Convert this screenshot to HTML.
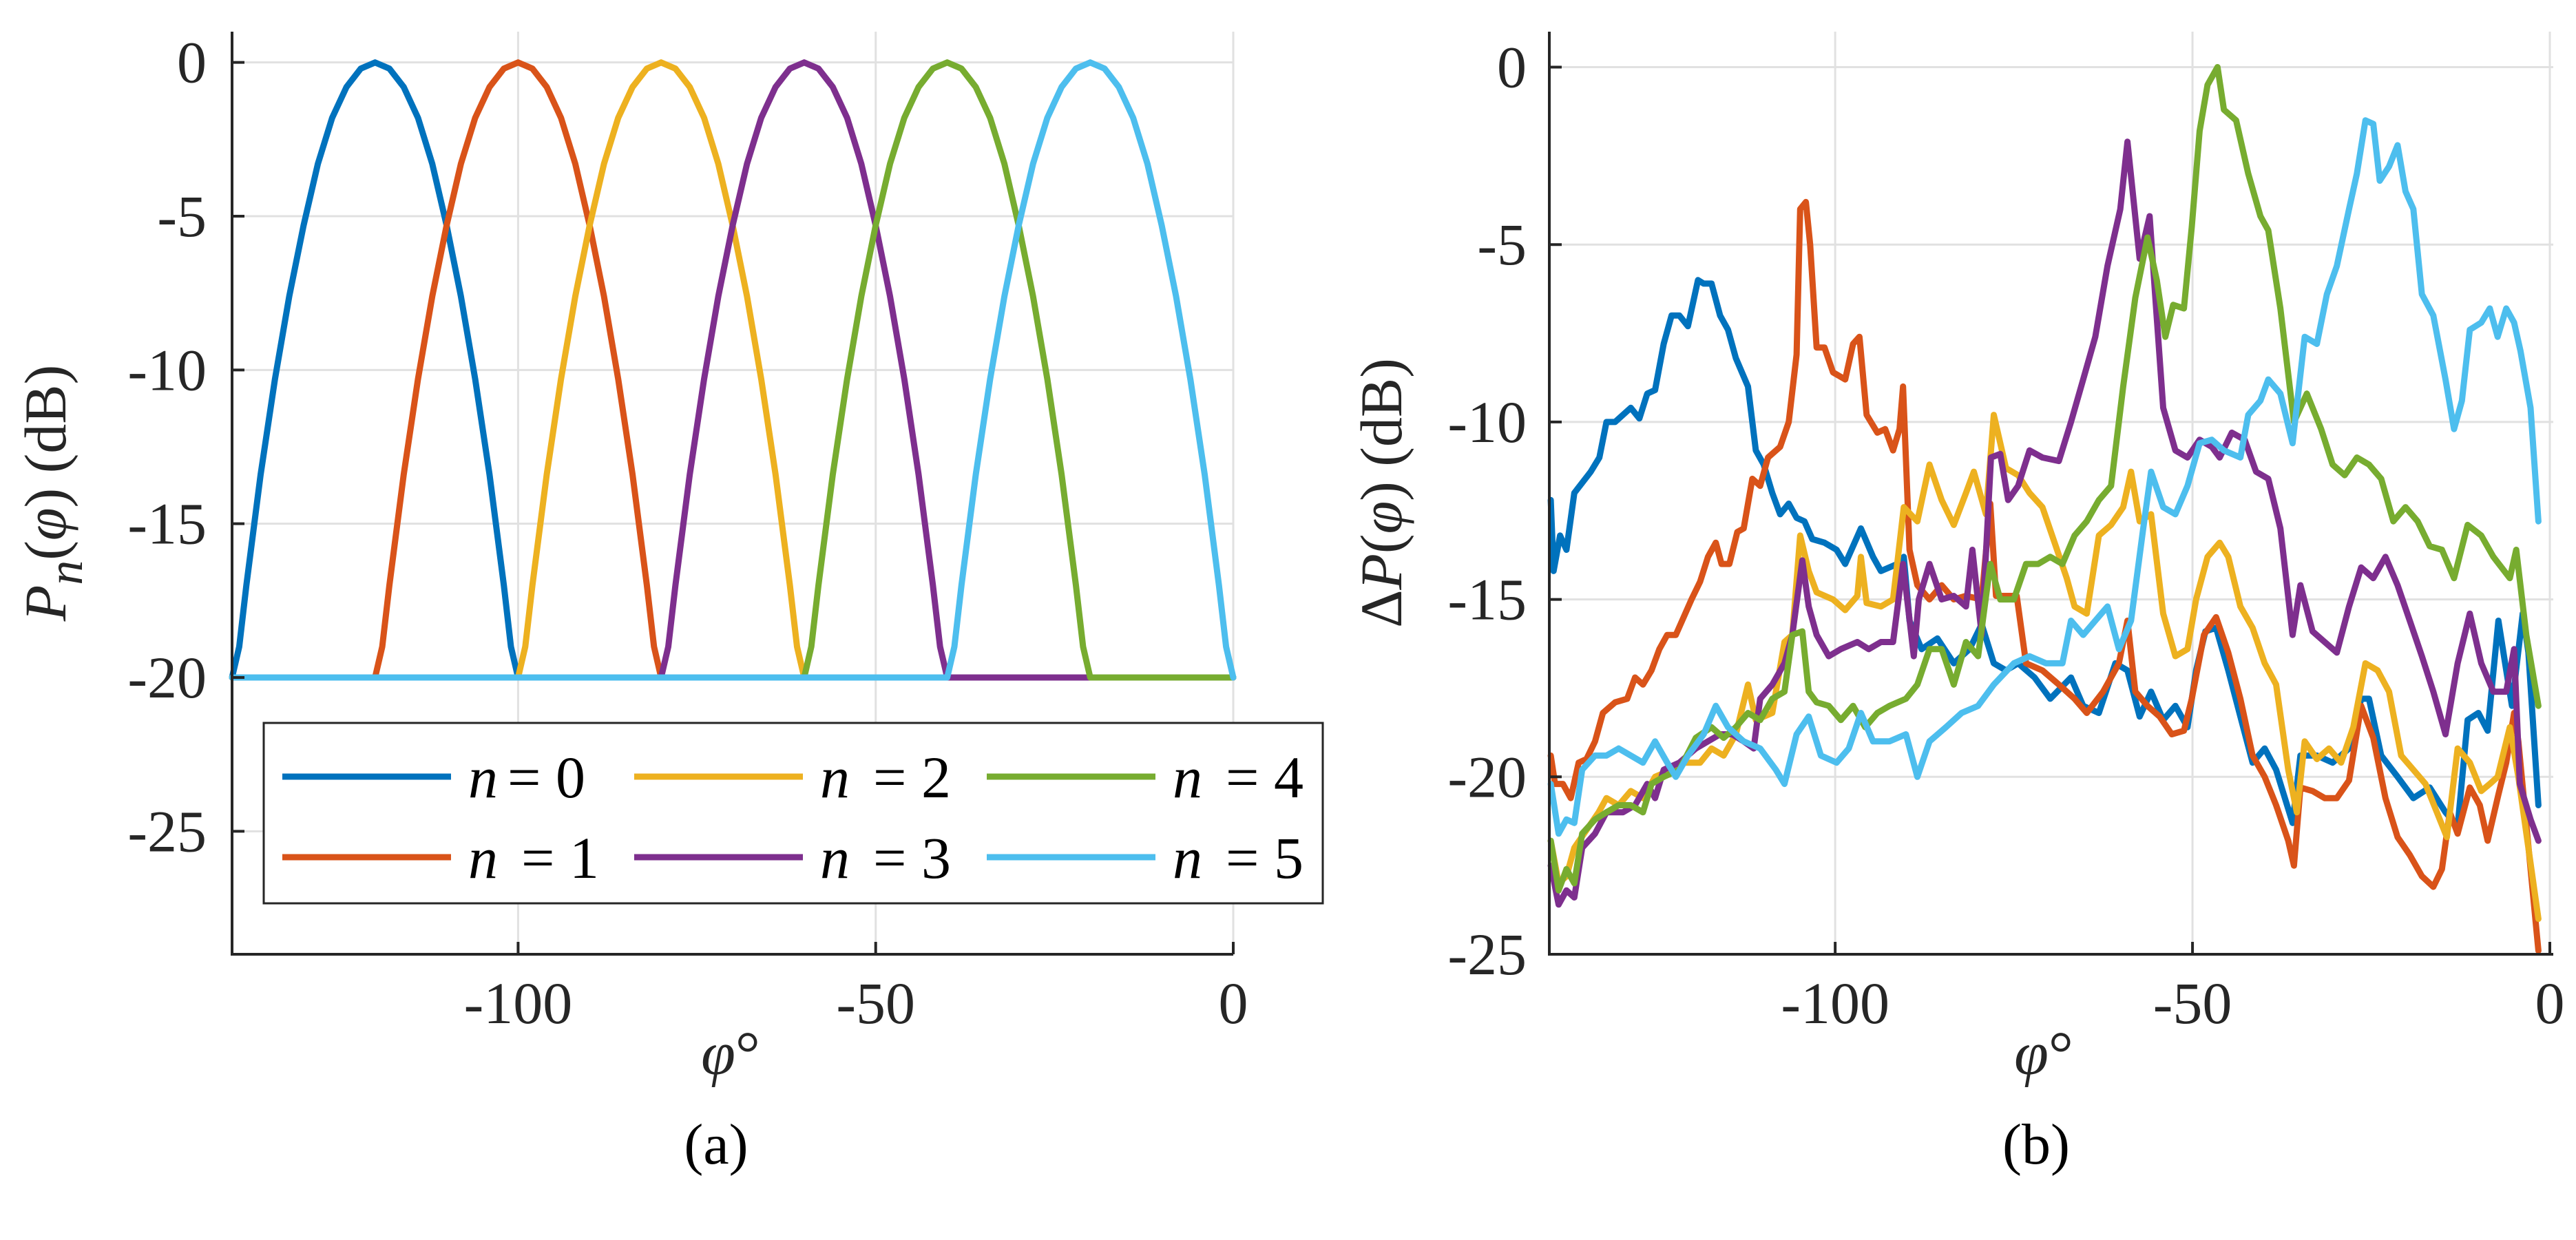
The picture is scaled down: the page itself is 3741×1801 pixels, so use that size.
<!DOCTYPE html>
<html><head><meta charset="utf-8">
<style>
html,body{margin:0;padding:0;background:#fff;}
svg{display:block;font-family:"Liberation Serif",serif;}
</style></head>
<body>
<svg id="fig" width="3741" height="1801" viewBox="0 0 3741 1801" xmlns="http://www.w3.org/2000/svg">
<rect x="0" y="0" width="3741" height="1801" fill="#fff"/>
<g id="pa"></g>
<g id="pb"></g>
</svg>
<script>
// ---------- data: panel (a) ----------
const aCenters = [-120, -100, -80, -60, -40, -20];
const aOffsets = [-20, -19, -18, -16, -14, -12, -10, -8, -6, -4, -2, 0, 2, 4, 6, 8, 10, 12, 14, 16, 18, 19, 20];
const aProfile = [-20, -19, -17, -13.4, -10.3, -7.6, -5.3, -3.3, -1.8, -0.8, -0.2, 0, -0.2, -0.8, -1.8, -3.3, -5.3, -7.6, -10.3, -13.4, -17, -19, -20];
const aFloor = -20;
const aYTicks = [0, -5, -10, -15, -20, -25];
const aXTicks = [-100, -50, 0];
const seriesColors = ['#0072BD', '#D95319', '#EDB120', '#7E2F8E', '#77AC30', '#4DBEEE'];
const legendLabels = ['0', '1', '2', '3', '4', '5'];

// ---------- data: panel (b) ----------
const bX0 = [-139.8,-139.4,-138.5,-137.6,-136.5,-134.2,-133,-132,-130.8,-128.6,-127.4,-126.3,-125.2,-124,-122.9,-121.8,-120.6,-119.2,-118.4,-117.3,-116.1,-115,-113.9,-112.2,-111.1,-110,-108.8,-107.7,-106.5,-105.4,-104.3,-103.2,-101.5,-99.8,-98.6,-96.4,-94.7,-93.6,-91.3,-90.4,-89.6,-87.9,-85.7,-83.4,-81.2,-79.5,-77.8,-76.1,-74.4,-72.1,-69.9,-67,-65.3,-63.1,-60.8,-59.1,-57.4,-55.8,-54.1,-52.4,-50.7,-49.5,-48.2,-46.7,-45,-43.3,-41.6,-39.9,-38.3,-36,-34.9,-32.6,-30.4,-28.1,-26.4,-25.3,-23.6,-21.3,-19.1,-16.8,-14.6,-12.9,-11.5,-10,-8.7,-7.2,-6.1,-5.3,-3.8,-3,-1.6];
const bY0 = [-12.2,-14.2,-13.2,-13.6,-12,-11.4,-11,-10,-10,-9.6,-9.9,-9.2,-9.1,-7.8,-7,-7,-7.3,-6,-6.1,-6.1,-7,-7.4,-8.2,-9,-10.8,-11.2,-12,-12.6,-12.3,-12.7,-12.8,-13.3,-13.4,-13.6,-14,-13,-13.8,-14.2,-14,-13.8,-15.6,-16.4,-16.1,-16.8,-16.4,-15.7,-16.8,-17,-16.8,-17.2,-17.8,-17.2,-18,-18.2,-16.8,-17,-18.3,-17.6,-18.4,-18,-18.6,-17,-15.9,-15.8,-17,-18.3,-19.6,-19.2,-19.8,-21.3,-19.4,-19.4,-19.6,-19.2,-17.8,-17.8,-19.4,-20,-20.6,-20.3,-21,-21.4,-18.4,-18.2,-18.7,-15.6,-17,-18,-15.4,-16.5,-20.8];
const bX1 = [-139.8,-139.2,-138.1,-137,-135.9,-134.8,-133.6,-132.5,-130.8,-129.1,-128,-126.9,-125.7,-124.6,-123.5,-122.3,-121.2,-120.1,-118.9,-117.8,-116.7,-115.9,-114.8,-113.7,-112.8,-111.6,-110.5,-109.4,-107.7,-106.5,-105.4,-104.9,-104.1,-103.5,-102.6,-101.5,-100.3,-98.6,-97.5,-96.6,-95.6,-94.1,-93,-91.9,-91,-90.5,-89.6,-88.5,-86.8,-85.1,-83.4,-81.7,-79.5,-78.3,-77.5,-75.5,-74.6,-73.3,-71,-68.7,-66.5,-64.8,-62.5,-60.3,-59.1,-58,-56.3,-54.6,-52.9,-51.2,-50.1,-48.4,-46.7,-45,-43.3,-41.6,-39.9,-38.3,-36.6,-35.8,-34.9,-33.2,-31.5,-29.8,-28.1,-26.4,-24.7,-23,-21.3,-19.6,-17.9,-16.3,-15.1,-14,-12.9,-11.2,-9.8,-8.7,-7.2,-6.1,-5,-4.4,-1.6];
const bY1 = [-19.4,-20.2,-20.2,-20.6,-19.6,-19.5,-19,-18.2,-17.9,-17.8,-17.2,-17.4,-17,-16.4,-16,-16,-15.5,-15,-14.5,-13.8,-13.4,-14,-14,-13.1,-13,-11.6,-11.8,-11,-10.7,-10,-8.1,-4,-3.8,-5,-7.9,-7.9,-8.6,-8.8,-7.8,-7.6,-9.8,-10.3,-10.2,-10.8,-10.2,-9,-13.6,-14.6,-15,-14.6,-15,-14.9,-15,-12.3,-14.9,-14.9,-14.9,-16.8,-17,-17.4,-17.8,-18.2,-17.6,-16.8,-15.6,-17.6,-18,-18.3,-18.8,-18.7,-17.8,-16,-15.5,-16.5,-17.8,-19.4,-20,-20.8,-21.8,-22.5,-20.3,-20.4,-20.6,-20.6,-20.1,-18,-18.9,-20.6,-21.7,-22.2,-22.8,-23.1,-22.6,-21,-21.6,-20.3,-20.8,-21.8,-20.5,-19.6,-18.2,-19,-24.9];
const bX2 = [-139.8,-138.7,-137.6,-136.5,-134.8,-133.1,-132,-130.3,-128.6,-126.9,-125.2,-122.9,-121.2,-118.9,-117.3,-115.6,-113.9,-112.2,-111.1,-108.8,-107.1,-106,-104.9,-103.7,-102.6,-100.3,-98.6,-96.9,-96.4,-95.6,-93.6,-91.9,-90.4,-88.5,-86.8,-85.1,-83.4,-81.7,-80.6,-78.9,-77.8,-76.1,-74.4,-72.8,-71,-69.3,-67.6,-66.5,-64.8,-63.1,-61.4,-59.7,-58.6,-57.4,-55.8,-54.1,-52.4,-50.7,-49.5,-47.9,-46.2,-45,-43.3,-41.6,-39.9,-38.3,-36.6,-35.4,-34.3,-32.6,-30.9,-29.2,-27.5,-25.8,-24.1,-22.5,-20.8,-19.1,-17.4,-15.8,-14.4,-12.9,-11.2,-9.6,-8.4,-7.3,-5.6,-4.4,-1.6];
const bY2 = [-21.8,-23,-22.8,-22,-21.5,-21,-20.6,-20.8,-20.4,-20.6,-20,-19.8,-19.6,-19.6,-19.2,-19.4,-18.8,-17.4,-18.4,-18.2,-16.2,-16,-13.2,-14.2,-14.8,-15,-15.3,-14.9,-13.8,-15.1,-15.2,-15,-12.4,-12.8,-11.2,-12.2,-12.9,-12,-11.4,-12.6,-9.8,-11.3,-11.5,-12,-12.4,-13.4,-14.4,-15.2,-15.4,-13.2,-12.9,-12.4,-11.4,-12.8,-12.6,-15.4,-16.6,-16.4,-15,-13.8,-13.4,-13.8,-15.2,-15.8,-16.8,-17.4,-19.8,-21,-19,-19.5,-19.2,-19.6,-18.6,-16.8,-17,-17.6,-19.4,-19.8,-20.2,-21,-21.7,-19.2,-19.6,-20.4,-20.2,-20,-18.6,-20,-24];
const bX3 = [-139.8,-138.7,-137.6,-136.5,-135.4,-133.6,-132,-129.7,-128,-126.3,-125.2,-124,-121.8,-119.5,-117.8,-116.1,-114.4,-112.8,-111.4,-110.5,-108.8,-107.1,-106,-104.6,-103.7,-102.6,-100.9,-99.2,-96.9,-95.3,-93.6,-91.9,-90.5,-89,-88.3,-86.8,-85.1,-83.4,-81.7,-80.8,-79.5,-78.2,-76.9,-75.8,-74.4,-72.8,-71,-68.7,-67,-65.3,-63.6,-61.9,-60.1,-59.1,-57.4,-56,-55.2,-54.1,-52.4,-50.7,-49,-47.3,-46.2,-44.5,-42.7,-41.1,-39.4,-37.7,-36,-34.9,-33.2,-31.5,-29.8,-28.1,-26.4,-24.7,-23,-21.3,-19.6,-17.9,-16.3,-14.6,-12.9,-11.2,-9.6,-7.9,-6.1,-5,-4.2,-2.7,-1.6];
const bY3 = [-22.5,-23.6,-23.2,-23.4,-22,-21.6,-21,-21,-20.8,-20.2,-20.6,-19.8,-19.6,-19.2,-19,-18.8,-18.8,-19,-19.2,-17.8,-17.4,-16.8,-16,-13.9,-15.2,-16,-16.6,-16.4,-16.2,-16.4,-16.2,-16.2,-14,-16.6,-15,-14,-15,-14.9,-15.2,-13.6,-16,-11,-10.9,-12.2,-11.8,-10.8,-11,-11.1,-10,-8.8,-7.6,-5.6,-4,-2.1,-5.4,-4.2,-6.5,-9.6,-10.8,-11,-10.5,-10.7,-11,-10.3,-10.5,-11.4,-11.6,-13,-16,-14.6,-15.9,-16.2,-16.5,-15.2,-14.1,-14.4,-13.8,-14.6,-15.6,-16.6,-17.6,-18.8,-16.8,-15.4,-16.8,-17.6,-17.6,-16.4,-20.2,-21.2,-21.8];
const bX4 = [-139.8,-138.7,-137.6,-136.5,-135.4,-133.6,-132,-130.3,-128.6,-126.9,-125.7,-124,-121.8,-119.5,-117.3,-115.6,-113.9,-112.2,-110.5,-108.8,-107.1,-106,-104.6,-103.7,-102.6,-100.9,-99.2,-97.5,-95.8,-94.1,-92.4,-90.1,-88.5,-86.8,-85.1,-83.4,-81.7,-80,-78.3,-76.9,-75,-73.3,-71.6,-69.9,-68.2,-66.5,-64.8,-63.1,-61.4,-59.7,-58,-56.3,-55,-53.8,-52.7,-51.2,-50.1,-49,-47.9,-46.5,-45.6,-43.9,-42.2,-40.5,-39.4,-37.7,-35.8,-34,-32,-30.4,-28.7,-27,-25.3,-23.6,-21.9,-20.2,-18.5,-16.8,-15.1,-13.4,-11.5,-9.6,-7.9,-5.6,-4.7,-3.3,-1.6];
const bY4 = [-21.8,-23.2,-22.6,-23,-21.6,-21.2,-21,-20.8,-20.8,-21,-20.2,-20,-19.8,-18.9,-18.6,-18.9,-18.6,-18.2,-18.4,-17.8,-17.6,-16,-15.9,-17.6,-17.9,-18,-18.4,-18,-18.6,-18.2,-18,-17.8,-17.4,-16.4,-16.4,-17.4,-16.2,-16.6,-14,-15,-15,-14,-14,-13.8,-14,-13.2,-12.8,-12.2,-11.8,-9,-6.5,-4.8,-6,-7.6,-6.7,-6.8,-4.5,-1.8,-0.5,0,-1.2,-1.5,-3,-4.2,-4.6,-6.8,-10,-9.2,-10.2,-11.2,-11.5,-11,-11.2,-11.6,-12.8,-12.4,-12.8,-13.5,-13.6,-14.4,-12.9,-13.2,-13.8,-14.4,-13.6,-16,-18];
const bX5 = [-139.8,-138.7,-137.6,-136.5,-135.4,-133.6,-132,-130.3,-128.6,-126.9,-125.2,-123.5,-122.3,-120.6,-118.4,-116.7,-115,-112.8,-110.5,-108.3,-107.1,-105.4,-103.7,-102,-99.8,-98.1,-96.4,-94.7,-92.4,-90.1,-88.5,-86.8,-84.5,-82.3,-80,-77.8,-75,-72.8,-70.5,-68.2,-67,-65.3,-63.6,-61.9,-60.3,-58.6,-56.9,-55.8,-54.1,-52.4,-50.7,-49,-47.3,-45.6,-43.3,-42.2,-40.5,-39.4,-37.7,-36,-34.3,-32.6,-31.2,-29.8,-28.1,-27,-25.8,-24.7,-23.8,-22.5,-21.3,-20.2,-19.1,-17.9,-16.3,-14.6,-13.4,-12.3,-11.2,-9.6,-8.4,-7.3,-6.1,-5,-4.1,-2.7,-1.6];
const bY5 = [-20.2,-21.6,-21.2,-21.3,-19.8,-19.4,-19.4,-19.2,-19.4,-19.6,-19,-19.6,-20,-19.4,-18.8,-18,-18.6,-19,-19.2,-19.8,-20.2,-18.8,-18.3,-19.4,-19.6,-19.2,-18.2,-19,-19,-18.8,-20,-19,-18.6,-18.2,-18,-17.4,-16.8,-16.6,-16.8,-16.8,-15.6,-16,-15.6,-15.2,-16.4,-15.6,-13,-11.4,-12.4,-12.6,-11.8,-10.6,-10.5,-10.8,-11,-9.8,-9.4,-8.8,-9.2,-10.6,-7.6,-7.8,-6.4,-5.6,-4,-3,-1.5,-1.6,-3.2,-2.8,-2.2,-3.5,-4,-6.4,-7,-8.8,-10.2,-9.4,-7.4,-7.2,-6.8,-7.6,-6.8,-7.2,-8,-9.6,-12.8];
const bYTicks = [0, -5, -10, -15, -20, -25];
const bXTicks = [-100, -50, 0];

// ---------- drawing ----------
const NS = 'http://www.w3.org/2000/svg';
function mk(tag, parent) { const e = document.createElementNS(NS, tag); parent.appendChild(e); return e; }

function makeAxes(L, R, xMin, xMax, T, B, yMax, yMin, xAxisEnd) {
  const sx = v => L + (v - xMin) / (xMax - xMin) * (R - L);
  const sy = v => T + (yMax - v) / (yMax - yMin) * (B - T);
  return {sx, sy, L, R, T, B, xAxisEnd};
}

function drawFrame(g, ax, xTicks, yTicks) {
  const grid = mk('g', g);
  
  
  xTicks.forEach(v => {
    const l = mk('line', grid);
    
    
    l.setAttribute('x1', ax.sx(v)); l.setAttribute('x2', ax.sx(v));
    l.setAttribute('y1', ax.T); l.setAttribute('y2', ax.B);
    l.setAttribute('stroke', '#e1e1e1'); l.setAttribute('stroke-width', 3);
  });
  yTicks.forEach(v => {
    const l = mk('line', grid);
    
    
    l.setAttribute('x1', ax.L); l.setAttribute('x2', ax.xAxisEnd);
    l.setAttribute('y1', ax.sy(v)); l.setAttribute('y2', ax.sy(v));
    l.setAttribute('stroke', '#e1e1e1'); l.setAttribute('stroke-width', 3);
  });
}

function drawAxisLines(g, ax, xTicks, yTicks, tickLabelX) {
  const a = mk('path', g);
  
  
  a.setAttribute('d', `M${ax.L},${ax.T} L${ax.L},${ax.B} L${ax.xAxisEnd},${ax.B}`);
  a.setAttribute('fill', 'none'); a.setAttribute('stroke', '#262626'); a.setAttribute('stroke-width', 4);
  yTicks.forEach(v => {
    const t = mk('line', g);
    
    
    t.setAttribute('x1', ax.L); t.setAttribute('x2', ax.L + 18);
    t.setAttribute('y1', ax.sy(v)); t.setAttribute('y2', ax.sy(v));
    t.setAttribute('stroke', '#262626'); t.setAttribute('stroke-width', 4);
    const tx = mk('text', g);
    
    
    tx.setAttribute('x', tickLabelX); tx.setAttribute('y', ax.sy(v) + 29);
    tx.setAttribute('text-anchor', 'end'); tx.setAttribute('font-size', 86); tx.setAttribute('fill', '#262626');
    tx.textContent = String(v);
  });
  xTicks.forEach(v => {
    const t = mk('line', g);
    
    
    t.setAttribute('x1', ax.sx(v)); t.setAttribute('x2', ax.sx(v));
    t.setAttribute('y1', ax.B); t.setAttribute('y2', ax.B - 18);
    t.setAttribute('stroke', '#262626'); t.setAttribute('stroke-width', 4);
    const tx = mk('text', g);
    
    
    tx.setAttribute('x', ax.sx(v)); tx.setAttribute('y', 1486);
    tx.setAttribute('text-anchor', 'middle'); tx.setAttribute('font-size', 86); tx.setAttribute('fill', '#262626');
    tx.textContent = String(v);
  });
}

function drawLine(g, ax, xs, ys, color, name) {
  const p = mk('path', g);
  
  
  let d = '';
  for (let i = 0; i < xs.length; i++) d += (i ? 'L' : 'M') + ax.sx(xs[i]).toFixed(1) + ',' + ax.sy(ys[i]).toFixed(1);
  p.setAttribute('d', d);
  p.setAttribute('fill', 'none'); p.setAttribute('stroke', color);
  p.setAttribute('stroke-width', 9); p.setAttribute('stroke-linejoin', 'round'); p.setAttribute('stroke-linecap', 'round');
}

// Panel (a)
const ga = document.getElementById('pa');
const axA = makeAxes(337, 1791, -140, 0, 46, 1386, 1, -29, 1791);
drawFrame(ga, axA, aXTicks, aYTicks);
const gaLines = mk('g', ga);


aCenters.forEach((c, n) => {
  const xs = [], ys = [];
  if (c - 20 > -140) { xs.push(-140); ys.push(aFloor); }
  aOffsets.forEach((o, i) => { xs.push(c + o); ys.push(aProfile[i]); });
  if (c + 20 < 0) { xs.push(0); ys.push(aFloor); }
  drawLine(gaLines, axA, xs, ys, seriesColors[n], 'pattern-n' + n);
});
drawAxisLines(ga, axA, aXTicks, aYTicks, 300);

// Legend
const lg = mk('g', ga);


const lb = mk('rect', lg);


lb.setAttribute('x', 383); lb.setAttribute('y', 1050); lb.setAttribute('width', 1538); lb.setAttribute('height', 262);
lb.setAttribute('fill', '#fff'); lb.setAttribute('stroke', '#262626'); lb.setAttribute('stroke-width', 3);
const colX = [410, 921, 1433], rowY = [1128, 1245];
legendLabels.forEach((lab, n) => {
  const col = Math.floor(n / 2), row = n % 2;
  const e = mk('g', lg);
  
  
  const l = mk('line', e);
  
  
  l.setAttribute('x1', colX[col]); l.setAttribute('x2', colX[col] + 245);
  l.setAttribute('y1', rowY[row]); l.setAttribute('y2', rowY[row]);
  l.setAttribute('stroke', seriesColors[n]); l.setAttribute('stroke-width', 9);
  const t = mk('text', e);
  
  
  t.setAttribute('x', colX[col] + 270); t.setAttribute('y', rowY[row] + 30);
  t.setAttribute('font-size', 86); t.setAttribute('fill', '#000');
  const i = mk('tspan', t); i.setAttribute('font-style', 'italic'); i.textContent = 'n';
  const r = mk('tspan', t); r.setAttribute('dx', n === 0 ? 14 : 34); r.textContent = '= ' + lab;
});

// Panel (b)
const gb = document.getElementById('pb');
const axB = makeAxes(2250, 3703, -140, 0, 46, 1386, 1, -25, 3708);
drawFrame(gb, axB, bXTicks, bYTicks);
const gbLines = mk('g', gb);


const bXs = [bX0, bX1, bX2, bX3, bX4, bX5], bYs = [bY0, bY1, bY2, bY3, bY4, bY5];
for (let n = 0; n < 6; n++) drawLine(gbLines, axB, bXs[n], bYs[n], seriesColors[n], 'delta-n' + n);
drawAxisLines(gb, axB, bXTicks, bYTicks, 2217);
</script>
<div style="position:absolute;left:0;top:0;width:3741px;height:1801px;pointer-events:none;">
<svg width="3741" height="1801" style="position:absolute;left:0;top:0;font-family:'Liberation Serif',serif;">
  <text transform="translate(95,716) rotate(-90)" text-anchor="middle" font-size="86" fill="#262626"><tspan font-style="italic">P</tspan><tspan font-style="italic" font-size="72" dy="24">n</tspan><tspan dy="-24">(</tspan><tspan font-style="italic">φ</tspan><tspan>) (dB)</tspan></text>
  <text x="1061" y="1560" text-anchor="middle" font-size="90" fill="#262626"><tspan font-style="italic">φ</tspan>°</text>
  <text x="1040" y="1690" text-anchor="middle" font-size="84" fill="#000">(a)</text>
  <text transform="translate(2035,716) rotate(-90)" text-anchor="middle" font-size="86" fill="#262626">Δ<tspan font-style="italic">P</tspan>(<tspan font-style="italic">φ</tspan>) (dB)</text>
  <text x="2968" y="1560" text-anchor="middle" font-size="90" fill="#262626"><tspan font-style="italic">φ</tspan>°</text>
  <text x="2957" y="1690" text-anchor="middle" font-size="84" fill="#000">(b)</text>
</svg>
</div>
</body></html>
